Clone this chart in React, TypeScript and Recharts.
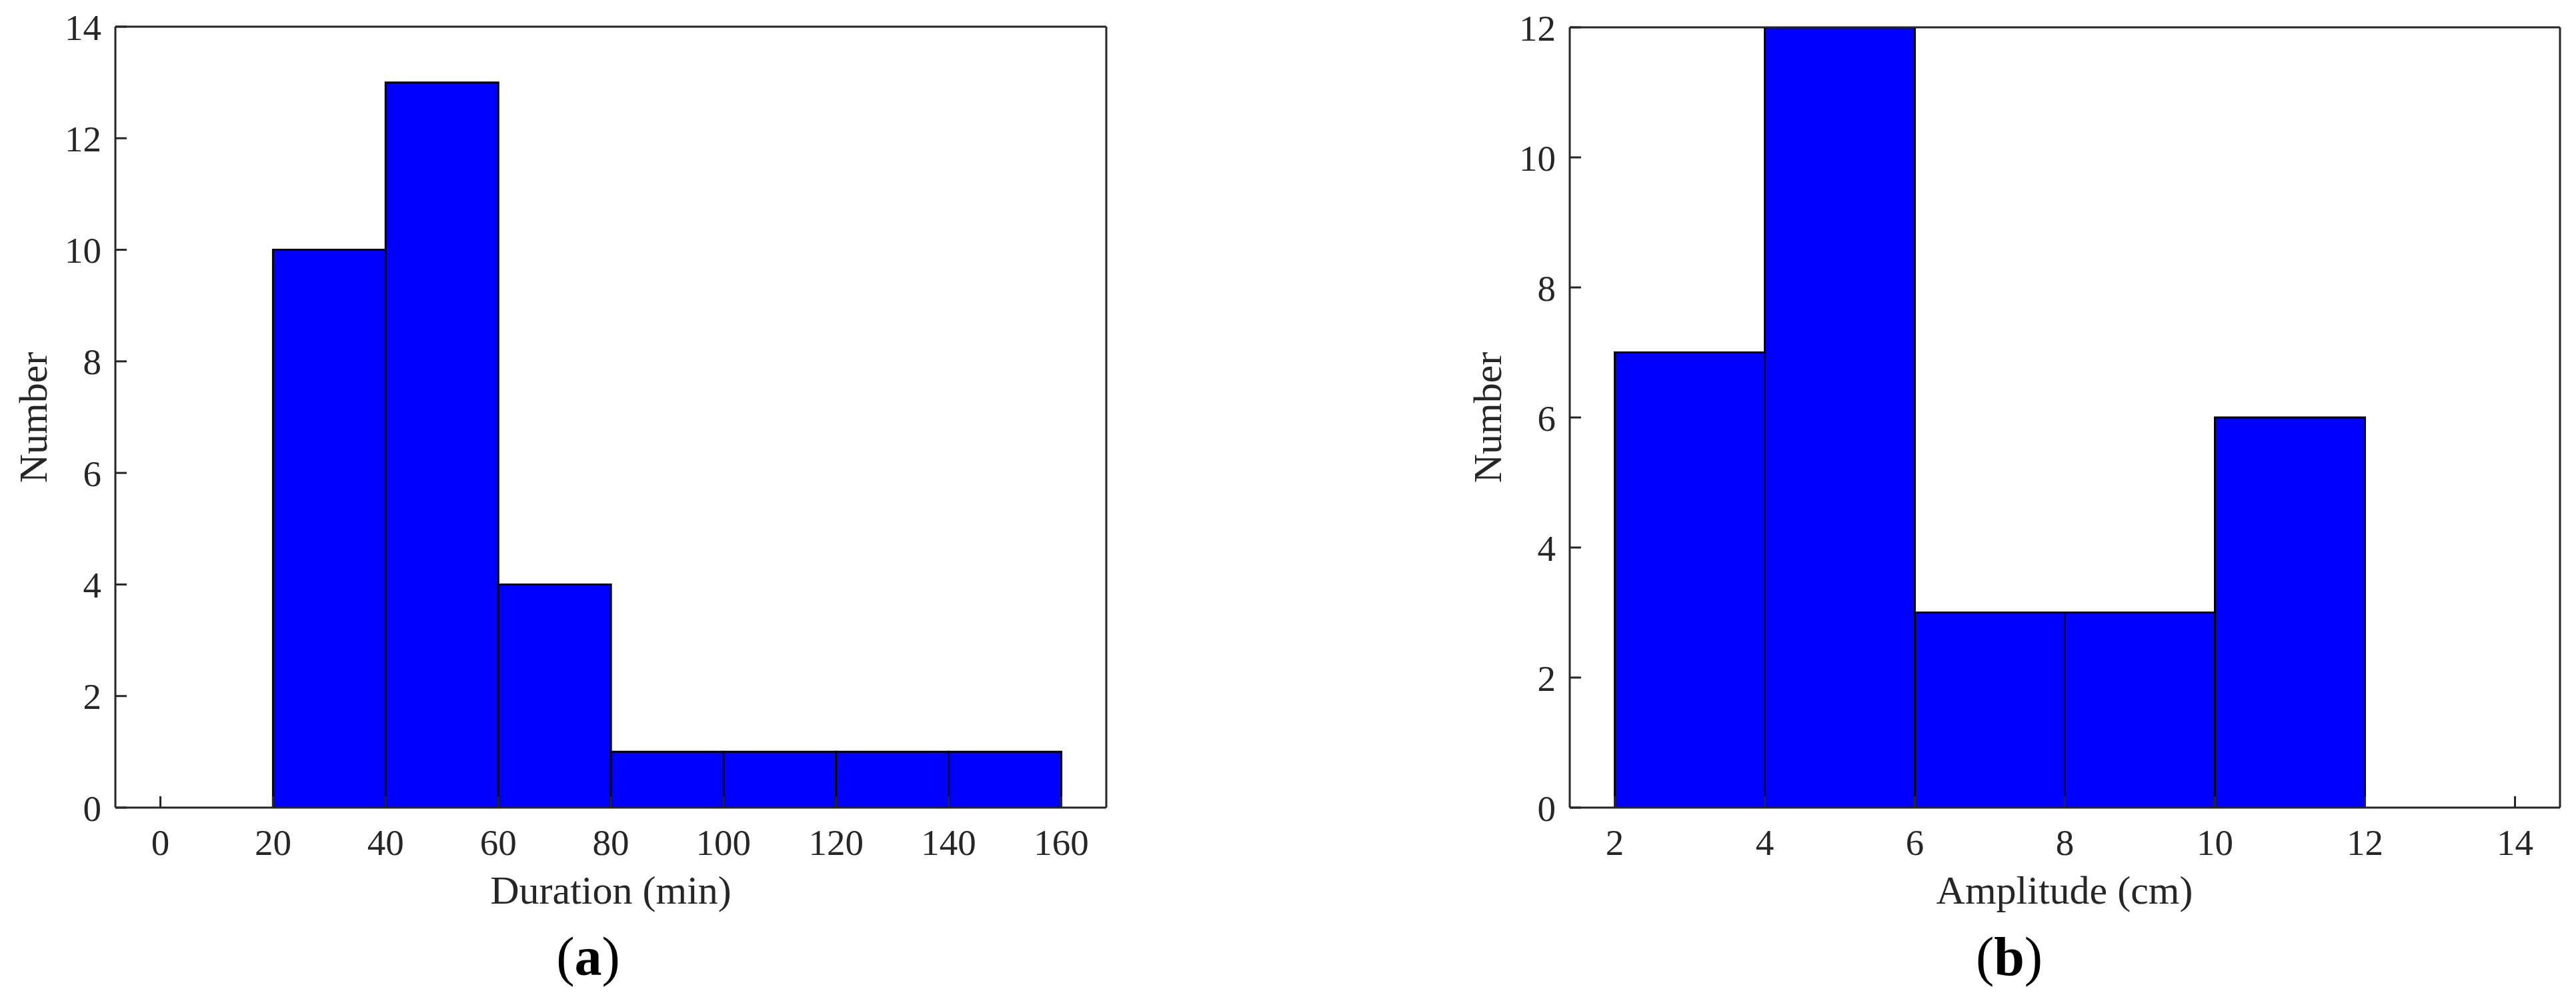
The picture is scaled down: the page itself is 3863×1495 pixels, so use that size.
import React from 'react';
import { ComposedChart, Bar, XAxis, YAxis } from 'recharts';

// histogram (a): duration, bins of 20 min, keyed on the bin centre
const durationBins = [10, 30, 50, 70, 90, 110, 130, 150];
const durationCounts = [0, 10, 13, 4, 1, 1, 1, 1];
const durationTicks = [0, 20, 40, 60, 80, 100, 120, 140, 160];
const durationCountTicks = [0, 2, 4, 6, 8, 10, 12, 14];

// histogram (b): amplitude, bins of 2 cm
const amplitudeBins = [3, 5, 7, 9, 11];
const amplitudeCounts = [7, 12, 3, 3, 6];
const amplitudeTicks = [2, 4, 6, 8, 10, 12, 14];
const amplitudeCountTicks = [0, 2, 4, 6, 8, 10, 12];

const FONT = '"Liberation Serif", "Times New Roman", Times, serif';
const INK = '#262626';
const axisStyle = { stroke: INK, strokeWidth: 3 };
const tickFont = { fill: INK, fontSize: 55, fontFamily: FONT };

interface HistProps {
  bins: number[];
  counts: number[];
  xTicks: number[];
  yTicks: number[];
  xDomain: [number, number];
  yMax: number;
  width: number;
  margin: { top: number; right: number; bottom: number; left: number };
}

function Histogram({ bins, counts, xTicks, yTicks, xDomain, yMax, width, margin }: HistProps) {
  const data = bins.map((b, i) => ({ bin: b, count: counts[i] }));
  return (
    <ComposedChart width={width} height={1495} data={data} margin={margin} barCategoryGap={0} barGap={0}>
      <XAxis
        xAxisId="bottom"
        dataKey="bin"
        type="number"
        domain={xDomain}
        allowDataOverflow
        ticks={xTicks}
        interval={0}
        height={80}
        axisLine={axisStyle}
        tickLine={axisStyle}
        tickSize={-17}
        tickMargin={49}
        tick={tickFont}
      />
      {/* mirrored box edges: top and right, ticks only */}
      <XAxis
        xAxisId="top"
        orientation="top"
        dataKey="bin"
        type="number"
        domain={xDomain}
        allowDataOverflow
        ticks={xTicks}
        interval={0}
        height={1}
        axisLine={axisStyle}
        tickLine={axisStyle}
        tickSize={-17}
        tick={false}
      />
      <YAxis
        yAxisId="left"
        type="number"
        domain={[0, yMax]}
        allowDataOverflow
        ticks={yTicks}
        interval={0}
        width={120}
        axisLine={axisStyle}
        tickLine={axisStyle}
        tickSize={-17}
        tickMargin={38}
        tick={tickFont}
      />
      <YAxis
        yAxisId="right"
        orientation="right"
        type="number"
        domain={[0, yMax]}
        allowDataOverflow
        ticks={yTicks}
        interval={0}
        width={1}
        axisLine={axisStyle}
        tickLine={axisStyle}
        tickSize={-17}
        tick={false}
      />
      <Bar
        xAxisId="bottom"
        yAxisId="left"
        dataKey="count"
        fill="#0000FF"
        stroke="#000000"
        strokeWidth={3}
        isAnimationActive={false}
      />
    </ComposedChart>
  );
}

export default function App() {
  return (
    <div style={{ position: 'absolute', left: 0, top: 0, width: 3863, height: 1495, background: '#fff' }}>
      <div style={{ position: 'absolute', left: 0, top: 0 }}>
        <Histogram
          bins={durationBins}
          counts={durationCounts}
          xTicks={durationTicks}
          yTicks={durationCountTicks}
          xDomain={[-8, 168]}
          yMax={14}
          width={1931}
          margin={{ top: 39, left: 53, right: 271, bottom: 204 }}
        />
      </div>
      <div style={{ position: 'absolute', left: 1931, top: 0 }}>
        <Histogram
          bins={amplitudeBins}
          counts={amplitudeCounts}
          xTicks={amplitudeTicks}
          yTicks={amplitudeCountTicks}
          xDomain={[1.4, 14.6]}
          yMax={12}
          width={1932}
          margin={{ top: 40, left: 303, right: 23, bottom: 204 }}
        />
      </div>
      {/* axis titles and panel letters */}
      <svg
        width={3863}
        height={1495}
        style={{ position: 'absolute', left: 0, top: 0, pointerEvents: 'none' }}
        fontFamily={FONT}
        fill={INK}
      >
        <text x={916} y={1355} fontSize={60} textAnchor="middle">Duration (min)</text>
        <text transform="translate(70,626) rotate(-90)" fontSize={60} textAnchor="middle">Number</text>
        <text x={882} y={1462} fontSize={82} textAnchor="middle" fill="#000">
          (<tspan fontWeight="bold">a</tspan>)
        </text>
        <text x={3096} y={1355} fontSize={60} textAnchor="middle">Amplitude (cm)</text>
        <text transform="translate(2251,626) rotate(-90)" fontSize={60} textAnchor="middle">Number</text>
        <text x={3013} y={1462} fontSize={82} textAnchor="middle" fill="#000">
          (<tspan fontWeight="bold">b</tspan>)
        </text>
      </svg>
    </div>
  );
}
